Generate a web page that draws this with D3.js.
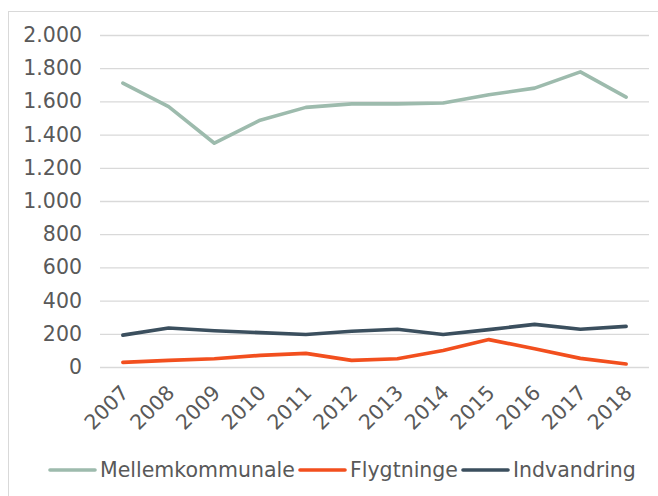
<!DOCTYPE html>
<html>
<head>
<meta charset="utf-8">
<script src="https://cdn.jsdelivr.net/npm/d3@7"></script>
<style>
  body { margin: 0; background: #fff; }
  svg text { font-family: "DejaVu Sans", Verdana, sans-serif; fill: #595959; }
</style>
</head>
<body>
<div id="chart"></div>
<script>
// Data
const years = ["2007", "2008", "2009", "2010", "2011", "2012", "2013", "2014", "2015", "2016", "2017", "2018"];
const mellemkommunale = [1710, 1568, 1348, 1487, 1564, 1585, 1585, 1590, 1640, 1680, 1778, 1626];
const flygtninge = [28, 40, 50, 70, 82, 40, 50, 100, 165, 110, 52, 18];
const indvandring = [192, 235, 218, 207, 196, 215, 227, 196, 225, 257, 227, 245];
const yTicks = [0, 200, 400, 600, 800, 1000, 1200, 1400, 1600, 1800, 2000];

const series = [
  { name: "Mellemkommunale", values: mellemkommunale, color: "#9dbbad" },
  { name: "Flygtninge", values: flygtninge, color: "#f24f1e" },
  { name: "Indvandring", values: indvandring, color: "#3b4f5e" }
];

const width = 658;
const height = 496;
const plot = { left: 100, right: 649, top: 35, bottom: 367 };
const fontSize = 20.5;

const svg = d3.select("#chart")
  .append("svg")
  .attr("width", width)
  .attr("height", height);

// Chart frame
svg.append("rect")
  .attr("x", 8.5)
  .attr("y", 11.5)
  .attr("width", 660)
  .attr("height", 500)
  .attr("fill", "none")
  .attr("stroke", "#d9d9d9")
  .attr("stroke-width", 1);

// Scales
const x = d3.scaleBand()
  .domain(years)
  .range([plot.left, plot.right]);

const y = d3.scaleLinear()
  .domain([0, 2000])
  .range([plot.bottom, plot.top]);

const fmt = d3.formatLocale({ decimal: ",", thousands: ".", grouping: [3], currency: ["", " kr."] }).format(",d");

// Gridlines + y labels
const yAxis = svg.append("g")
  .attr("transform", `translate(${plot.left},0)`)
  .call(d3.axisLeft(y).tickValues(yTicks).tickFormat(fmt).tickSize(-(plot.right - plot.left)).tickPadding(18));

yAxis.select(".domain").remove();
yAxis.selectAll(".tick line").attr("stroke", "#d9d9d9").attr("stroke-width", 1.3);
yAxis.selectAll(".tick text").attr("font-size", fontSize).attr("fill", "#595959");

// X labels, rotated
const xAxis = svg.append("g")
  .attr("transform", `translate(0,${plot.bottom})`)
  .call(d3.axisBottom(x).tickSize(0).tickPadding(0));

xAxis.select(".domain").remove();
xAxis.selectAll(".tick text")
  .attr("font-size", fontSize)
  .attr("fill", "#595959")
  .attr("text-anchor", "end")
  .attr("dy", 0)
  .attr("y", 0)
  .attr("transform", "translate(7,27) rotate(-45)");

// Lines
const line = d3.line()
  .x((d, i) => x(years[i]) + x.bandwidth() / 2)
  .y((d) => y(d));

svg.append("g")
  .selectAll("path")
  .data(series)
  .join("path")
  .attr("fill", "none")
  .attr("stroke", (d) => d.color)
  .attr("stroke-width", 3.6)
  .attr("stroke-linecap", "round")
  .attr("stroke-linejoin", "round")
  .attr("d", (d) => line(d.values));

// Legend
const legendX = [50, 300, 463];
const legend = svg.append("g")
  .selectAll("g")
  .data(series)
  .join("g")
  .attr("transform", (d, i) => `translate(${legendX[i]},470)`);

legend.append("line")
  .attr("x1", 0)
  .attr("x2", 45)
  .attr("stroke", (d) => d.color)
  .attr("stroke-width", 3.6)
  .attr("stroke-linecap", "round");

legend.append("text")
  .attr("x", 50)
  .attr("dy", "0.35em")
  .attr("font-size", fontSize)
  .text((d) => d.name);
</script>
</body>
</html>
